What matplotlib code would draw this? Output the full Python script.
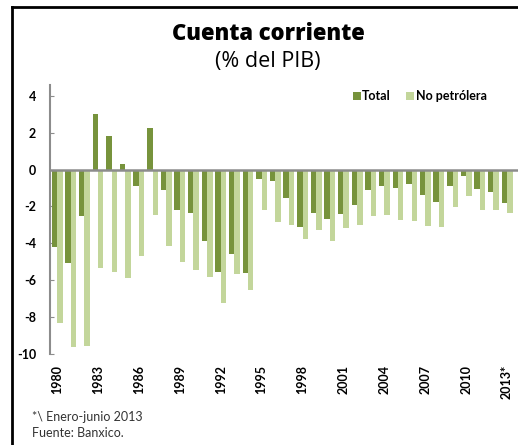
import matplotlib
matplotlib.use("Agg")
import matplotlib.pyplot as plt
from matplotlib.lines import Line2D
import numpy as np

years = list(range(1980, 2014))
total = [-4.19, -5.05, -2.53, 3.03, 1.80, 0.29, -0.88, 2.27, -1.12, -2.20,
         -2.38, -3.88, -5.54, -4.60, -5.60, -0.49, -0.65, -1.57, -3.12, -2.36,
         -2.71, -2.42, -1.95, -1.12, -0.88, -0.99, -0.78, -1.37, -1.77, -0.88,
         -0.33, -1.03, -1.21, -1.83]
no_petrolera = [-8.34, -9.60, -9.55, -5.36, -5.54, -5.90, -4.68, -2.44, -4.13, -5.02,
                -5.45, -5.81, -7.26, -5.69, -6.53, -2.19, -2.82, -3.01, -3.75, -3.27,
                -3.88, -3.18, -3.01, -2.53, -2.47, -2.76, -2.78, -3.05, -3.12, -2.02,
                -1.41, -2.18, -2.20, -2.38]
tick_years = [str(y) for y in range(1980, 2011, 3)] + ["2013*"]
y_ticks = [4, 2, 0, -2, -4, -6, -8, -10]

c_total = "#77933C"
c_nopet = "#C3D69B"
gray = "#8C8C8C"

plt.rcParams['font.family'] = ['Lato', 'DejaVu Sans']

fig = plt.figure(figsize=(5.18, 4.45), dpi=100)
ax = fig.add_axes([50/518, 1-354/445, 1-50/518, (354-85)/445])

x = np.arange(len(years))
w = 0.4
ax.bar(x - w/2, total, width=w, color=c_total, label="Total", zorder=2)
ax.bar(x + w/2, no_petrolera, width=w, color=c_nopet, label="No petrólera", zorder=2)

ax.set_xlim(-0.52, 33.8)
ax.set_ylim(-10, 4.58)
ax.axhline(0, color=gray, lw=1.8, zorder=3)

for s in ["top", "right", "bottom"]:
    ax.spines[s].set_visible(False)
ax.spines["left"].set_color(gray)
ax.spines["left"].set_linewidth(1.5)

ax.set_yticks(y_ticks)
ax.set_yticklabels([str(v) for v in y_ticks], fontweight="bold", fontsize=9)
ax.tick_params(axis="y", direction="in", length=3, color=gray, pad=10)

ax.set_xticks(x[::3])
ax.set_xticklabels(tick_years, rotation=90, fontweight="bold", fontsize=9)
ax.tick_params(axis="x", length=0, pad=8)

leg = fig.legend(*ax.get_legend_handles_labels(), loc="center left",
                 bbox_to_anchor=(353/518, 1-96/445), bbox_transform=fig.transFigure,
                 ncol=2, frameon=False, borderpad=0, borderaxespad=0,
                 prop={"weight": "bold", "size": 9}, handlelength=0.6, handleheight=0.6,
                 handletextpad=0.15, columnspacing=1.2)

fig.text(268/518, 1-39.5/445, "Cuenta corriente", ha="center", va="baseline",
         fontsize=15.8, fontweight="heavy", family=["Open Sans", "DejaVu Sans"])
fig.text(267.5/518, 1-66.5/445, "(% del PIB)", ha="center", va="baseline", fontsize=15.5,
         family=["Open Sans", "DejaVu Sans"])

fig.text(32/518, 1-421/445, "*\\ Enero-junio 2013", ha="left", va="baseline", fontsize=9, color="#333333")
fig.text(32/518, 1-437/445, "Fuente: Banxico.", ha="left", va="baseline", fontsize=9, color="#333333")

fig.add_artist(Line2D([12/518, 12/518], [0, 1-7/445], color="black", lw=2, transform=fig.transFigure))
fig.add_artist(Line2D([12/518, 1], [1-7/445, 1-7/445], color="black", lw=2, transform=fig.transFigure))

fig.savefig("out.png", dpi=100)
